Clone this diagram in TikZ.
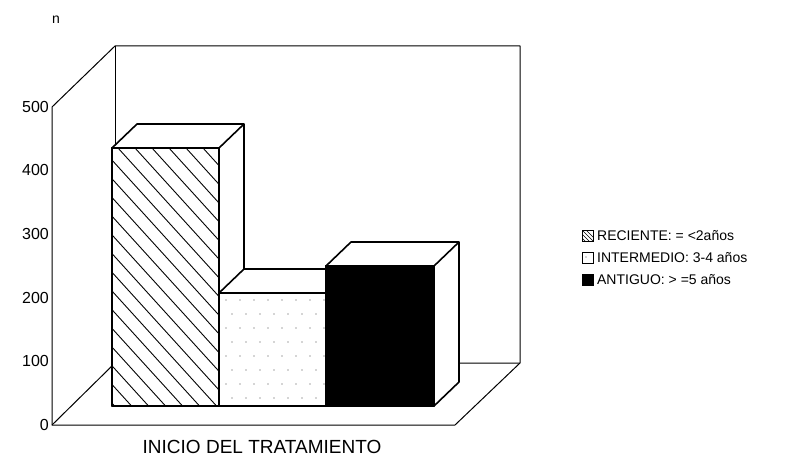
\documentclass[tikz,border=0pt]{standalone}
\usepackage{fontspec}
\setsansfont{Liberation Sans}
\usetikzlibrary{positioning}

\begin{document}
\begin{tikzpicture}[
    x=1pt, y=-1pt,
    frameline/.style={line width=1pt, line join=round},
    barline/.style={line width=1.6pt, line join=round},
    hatchline/.style={line width=0.9pt},
    ticklabel/.style={anchor=east, inner sep=1pt, font=\sffamily\fontsize{16}{16}\selectfont},
    legtext/.style={anchor=west, inner sep=1pt, font=\sffamily\fontsize{14}{14}\selectfont},
    legbox/.style={draw, line width=0.9pt, minimum size=11pt, inner sep=0pt},
    dotmark/.style={fill=black!70}
]
    \useasboundingbox (0,0) rectangle (810,465);

    % walls and floor
    \draw[frameline] (52,425) -- (52,107) -- (115,46) -- (520,46) -- (520,363) -- (455,425) -- cycle;
    \draw[frameline] (115,46) -- (115,363);
    \draw[frameline] (52,425) -- (115,363) -- (520,363);

    \node (n) at (56,20) {\sffamily\fontsize{14}{14}\selectfont n};
    \foreach \v/\y in {0/425, 100/361, 200/298, 300/234, 400/170, 500/107}
        \node[ticklabel] (tick\v) at (50,\y) {\v};

    % bars: left/right/top of front face
    \foreach \xa/\xb/\yt in {112/219/148, 219/326/293, 326/434/266} {
        \draw[barline, fill=white] (\xb,406) -- ++(25,-24) -- (\xb+25,\yt-24) -- (\xa+25,\yt-24) -- (\xa,\yt) -- (\xb,\yt) -- cycle;
        \draw[barline] (\xb,\yt) -- ++(25,-24);
        \draw[barline, fill=white] (\xa,406) rectangle (\xb,\yt);
    }

    % RECIENTE
    \begin{scope}
        \clip (112,148) rectangle (219,406);
        \foreach \k in {0,...,21}
            \draw[hatchline] (-137+\k*17,148) -- ++(280,308);
    \end{scope}
    \draw[barline] (112,406) rectangle (219,148);

    % INTERMEDIO
    \foreach \i in {0,...,7}
        \foreach \j/\off in {0/0, 1/6, 2/0, 3/6, 4/0, 5/6, 6/0, 7/6}
            \fill[dotmark] (226+\i*14+\off, 300+\j*14) circle[radius=0.6pt];
    \draw[barline] (219,406) rectangle (326,293);

    % ANTIGUO
    \draw[barline, fill=black] (326,406) rectangle (434,266);

    \node[font=\sffamily\fontsize{19}{19}\selectfont] (title) at (262,447) {INICIO DEL TRATAMIENTO};

    % legend
    \node[legbox] (boxA) at (588,236) {};
    \begin{scope}
        \clip (boxA.south west) rectangle (boxA.north east);
        \foreach \k in {-8,-4,0,4}
            \draw[line width=0.6pt] ([xshift=\k pt]boxA.north west) -- ++(14,14);
    \end{scope}
    \node[legbox] (boxB) at (588,258) {};
    \fill[dotmark] ([xshift=-2pt,yshift=1pt]boxB.center) circle[radius=0.6pt];
    \node[legbox, fill=black] (boxC) at (588,280) {};

    \node[legtext, right=2pt of boxA] (legA) {RECIENTE: = <2años};
    \node[legtext, right=2pt of boxB] (legB) {INTERMEDIO: 3-4 años};
    \node[legtext, right=2pt of boxC] (legC) {ANTIGUO: > =5 años};
\end{tikzpicture}
\end{document}
